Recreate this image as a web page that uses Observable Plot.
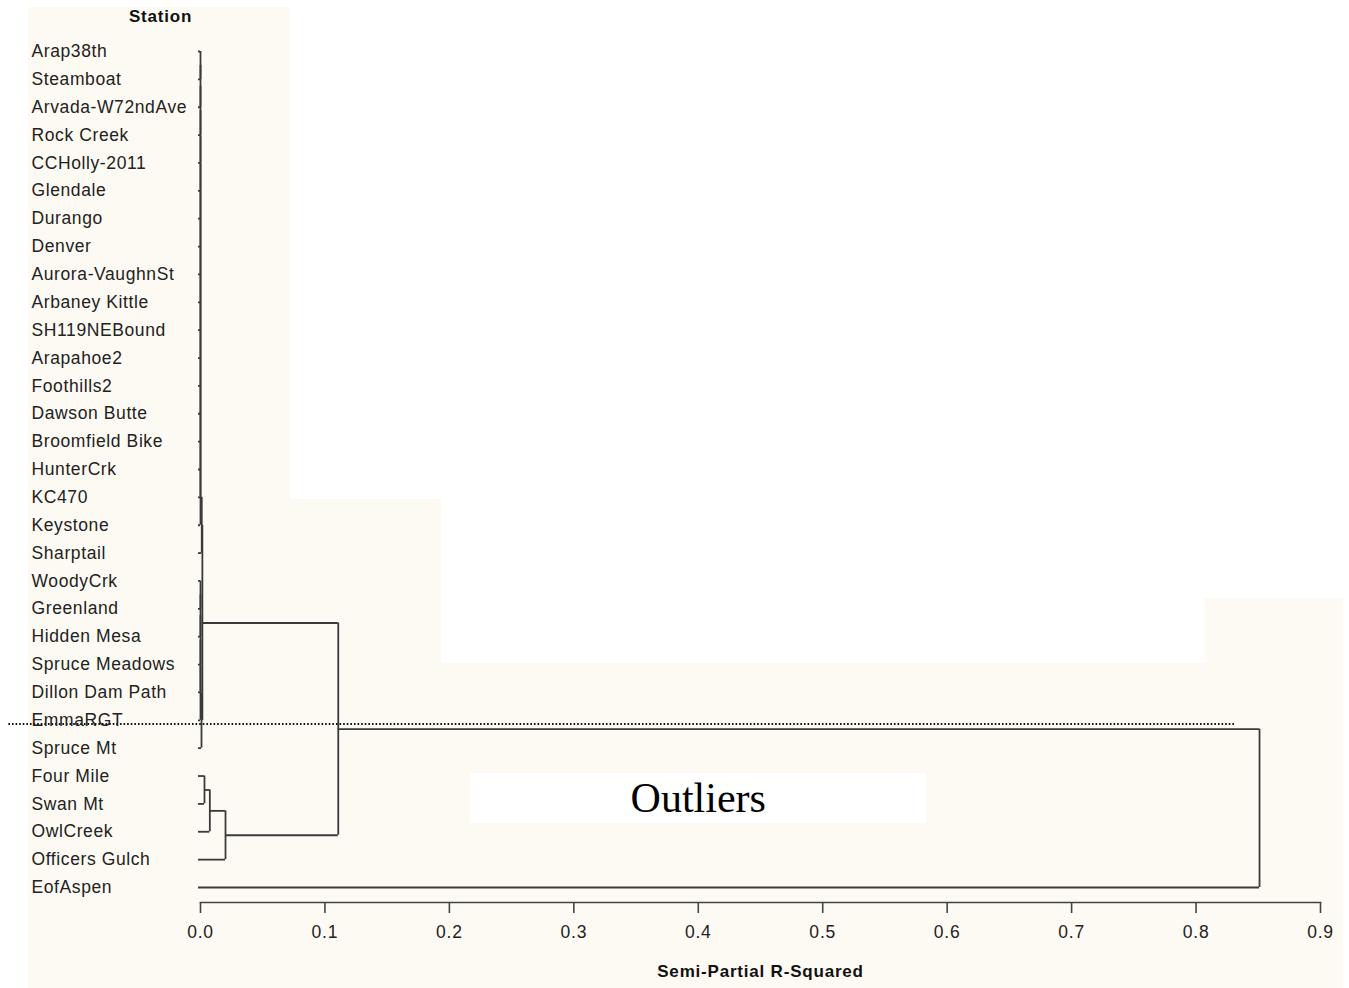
<!DOCTYPE html>
<html>
<head>
<meta charset="utf-8">
<script src="https://cdn.jsdelivr.net/npm/d3@7"></script>
<script src="https://cdn.jsdelivr.net/npm/@observablehq/plot@0.6"></script>
<style>
  html, body { margin: 0; padding: 0; background: #ffffff; }
  #wrap { position: relative; width: 1349px; height: 988px; overflow: hidden; }
  .bg { position: absolute; background: #fdfaf3; }
  #chart { position: absolute; left: 0; top: 0; }
  #chart svg { font-family: "Liberation Sans", Arial, sans-serif; }
  .lbl text { letter-spacing: 0.6px; }
  .ttl text { letter-spacing: 0.8px; font-weight: bold; }
  .ticks text { letter-spacing: 0.8px; }
</style>
</head>
<body>
<div id="wrap">
  <div class="bg" style="left:28px;top:7px;width:262px;height:981px"></div>
  <div class="bg" style="left:28px;top:499px;width:413px;height:489px"></div>
  <div class="bg" style="left:28px;top:663px;width:1315px;height:325px"></div>
  <div class="bg" style="left:1205px;top:598px;width:138px;height:390px"></div>
  <div id="chart"></div>
</div>
<script>
// Leaf order (top to bottom)
const stations = ["Arap38th","Steamboat","Arvada-W72ndAve","Rock Creek","CCHolly-2011","Glendale","Durango","Denver","Aurora-VaughnSt","Arbaney Kittle","SH119NEBound","Arapahoe2","Foothills2","Dawson Butte","Broomfield Bike","HunterCrk","KC470","Keystone","Sharptail","WoodyCrk","Greenland","Hidden Mesa","Spruce Meadows","Dillon Dam Path","EmmaRGT","Spruce Mt","Four Mile","Swan Mt","OwlCreek","Officers Gulch","EofAspen"];

// Cluster merges: [node a, node b, semi-partial R-squared]; leaves are 0..30, new clusters 31, 32, ...
const merges = [
  [0,1,0],[31,2,0],[32,3,0],[33,4,0],[34,5,0],[35,6,0],[36,7,0],[37,8,0],[38,9,0],
  [39,10,0],[40,11,0],[41,12,0],[42,13,0],[43,14,0],[44,15,0],[45,16,0],[46,17,0],
  [47,18,0.0010],
  [19,20,0],[49,21,0],[50,22,0],[51,23,0],[52,24,0],
  [53,25,0.0008],
  [48,54,0.0015],
  [26,27,0.0032],
  [56,28,0.0075],
  [57,29,0.0201],
  [55,58,0.1107],
  [59,30,0.851]
];

const xTicks = [0,0.1,0.2,0.3,0.4,0.5,0.6,0.7,0.8,0.9];
const xLabel = "Semi-Partial R-Squared";
const yLabel = "Station";

// annotations
const cutLine = [{y: 24.13, x1: -0.154, x2: 0.832}];
const outlierBox = [{x1: 0.217, x2: 0.5834, y1: 25.91, y2: 27.70}];
const outlierText = [{x: 0.40, y: 26.8, text: "Outliers"}];

const leafStart = -0.0016;

// build dendrogram segments
const nodeY = stations.map((_, i) => i);
const nodeH = stations.map(() => leafStart);
const vSegs = [], hSegs = [];
merges.forEach(([a, b, h]) => {
  const ya = nodeY[a], yb = nodeY[b];
  vSegs.push({x: h, y1: Math.min(ya, yb), y2: Math.max(ya, yb)});
  hSegs.push({y: ya, x1: nodeH[a], x2: h});
  hSegs.push({y: yb, x1: nodeH[b], x2: h});
  nodeY.push((ya + yb) / 2);
  nodeH.push(h);
});
const rows = stations.map((name, i) => ({name, i}));

const lineColor = "#3a3a3a";

const chart = Plot.plot({
  width: 1349,
  height: 988,
  marginLeft: 200,
  marginRight: 29,
  marginTop: 40,
  marginBottom: 86,
  x: {domain: [0, 0.9], axis: null},
  y: {domain: [0, 30], reverse: true, insetTop: 11, insetBottom: 15, axis: null},
  style: {background: "transparent", color: "#222", fontSize: "17px", overflow: "visible"},
  marks: [
    Plot.rect(outlierBox, {x1: "x1", x2: "x2", y1: "y1", y2: "y2", fill: "#ffffff"}),
    Plot.text(outlierText, {x: "x", y: "y", text: "text", fontFamily: "Liberation Serif, Times New Roman, serif", fontSize: 42, fill: "#000", textAnchor: "middle"}),
    Plot.ruleX(vSegs, {x: "x", y1: "y1", y2: "y2", stroke: lineColor, strokeWidth: 1.8}),
    Plot.ruleY(hSegs, {y: "y", x1: "x1", x2: "x2", stroke: lineColor, strokeWidth: 1.8}),
    Plot.ruleY(cutLine, {y: "y", x1: "x1", x2: "x2", stroke: "#111", strokeWidth: 2, strokeDasharray: "1.6,2"}),
    Plot.text(rows, {y: "i", text: "name", frameAnchor: "left", textAnchor: "start", dx: -169, fill: "#222", fontSize: 17.5, className: "lbl"}),
    Plot.frame({anchor: "bottom", stroke: "#444", strokeWidth: 1.6}),
    Plot.axisX(xTicks, {tickSize: 11, tickPadding: 12, tickFormat: d3.format(".1f"), label: null, fontSize: 17.5, stroke: "#444", strokeWidth: 1.6, className: "ticks"}),
    Plot.text([xLabel], {frameAnchor: "bottom", lineAnchor: "middle", textAnchor: "middle", text: d => d, dy: 69, fontSize: 17, fontWeight: "bold", fill: "#111", className: "ttl"}),
    Plot.text([yLabel], {frameAnchor: "top-left", lineAnchor: "middle", textAnchor: "middle", text: d => d, dx: -40, dy: -24, fontSize: 17, fontWeight: "bold", fill: "#111", className: "ttl"})
  ]
});
document.getElementById("chart").appendChild(chart);
</script>
</body>
</html>
